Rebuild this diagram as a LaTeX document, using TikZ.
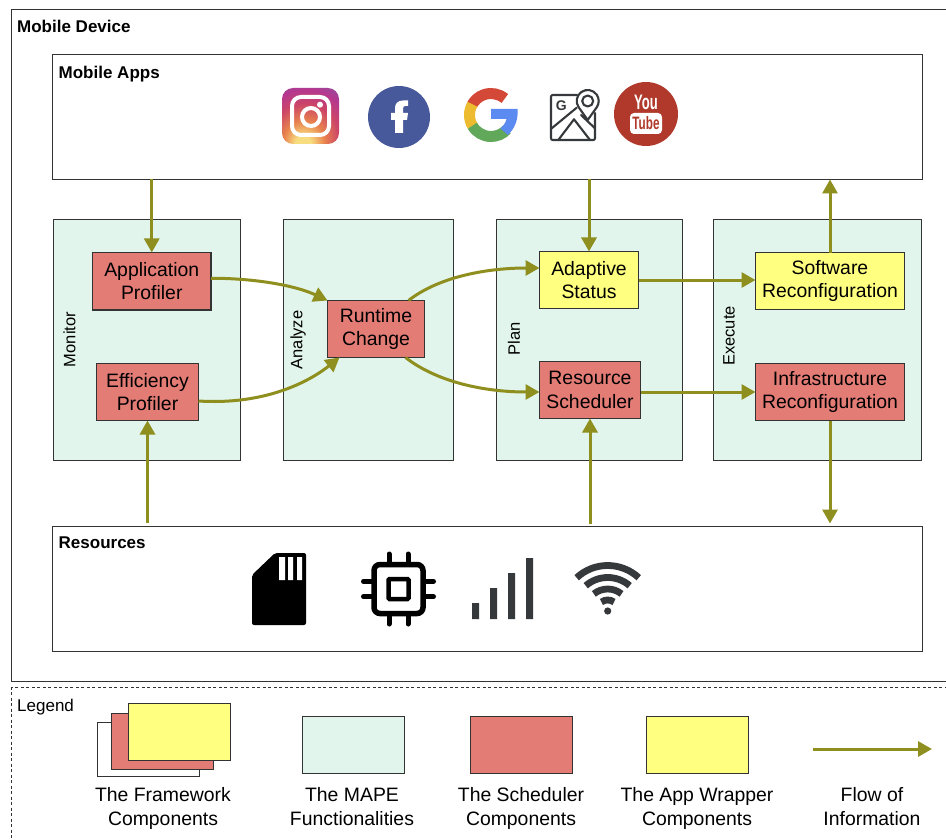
\documentclass[tikz,border=0pt]{standalone}
\usepackage{fontspec}
\setmainfont{Liberation Sans}
\usetikzlibrary{arrows.meta,calc}
\definecolor{mapeg}{HTML}{E2F5EC}
\definecolor{schedr}{HTML}{E37C75}
\definecolor{wrapy}{HTML}{FFFF80}
\definecolor{flowc}{HTML}{8F8F1F}
\definecolor{edge}{HTML}{333333}
\definecolor{iconk}{HTML}{35393B}
\definecolor{fbblue}{HTML}{47599A}
\definecolor{ytred}{HTML}{B0392B}
\definecolor{gred}{HTML}{D34836}
\definecolor{gyel}{HTML}{ECBB2F}
\definecolor{ggrn}{HTML}{62A85A}
\definecolor{gblu}{HTML}{5B8BF0}
\definecolor{igy}{HTML}{F8DC80}
\definecolor{igo}{HTML}{E8824E}
\definecolor{igr}{HTML}{CB4468}
\definecolor{igp}{HTML}{B5388F}
\definecolor{igt}{HTML}{7E55A6}
\pgfdeclareradialshading{igshade}{\pgfpoint{-7bp}{-27bp}}{%
  color(0bp)=(igy); color(7bp)=(igy); color(18bp)=(igo); color(30bp)=(igr);
  color(40bp)=(igp); color(52bp)=(igt); color(100bp)=(igt)}
\tikzset{
  basebox/.style={draw=edge,line width=1.1pt,inner sep=0pt,outer sep=0pt,align=center,font=\fontsize{19.4}{23.6}\selectfont,execute at begin node={\rule{0pt}{16pt}}},
  plainbox/.style={basebox,fill=white},
  mapebox/.style={basebox,fill=mapeg},
  schedbox/.style={basebox,fill=schedr},
  wrapbox/.style={basebox,fill=wrapy},
  legendbox/.style={draw=edge,line width=1.1pt,dash pattern=on 3pt off 2.5pt,inner sep=0pt,outer sep=0pt},
  flow/.style={draw=flowc,line width=3pt,-{Triangle[length=14pt,width=15pt]}},
  title/.style={anchor=base west,inner sep=0pt,font=\fontsize{17}{20}\selectfont\bfseries},
  legendtitle/.style={anchor=base west,inner sep=0pt,font=\fontsize{17}{20}\selectfont},
  sidelabel/.style={rotate=90,inner sep=0pt,font=\fontsize{16.5}{20}\selectfont},
  legendtext/.style={anchor=base,inner sep=0pt,align=center,font=\fontsize{19.4}{24}\selectfont},
}
\newcommand{\bnode}[7]{%
  \pgfmathsetmacro{\bcx}{(#3+#5)/2+0.5}%
  \pgfmathsetmacro{\bcy}{(#4+#6)/2+0.5}%
  \pgfmathsetmacro{\bw}{#5-#3}%
  \pgfmathsetmacro{\bh}{#6-#4}%
  \node[#1,minimum width=\bw pt,minimum height=\bh pt] (#2) at (\bcx,\bcy) {#7};%
}
\begin{document}
\begin{tikzpicture}[x=1pt,y=-1pt]
\useasboundingbox (0,0) rectangle (946,840);
\fill[white] (0,0) rectangle (946,840);
% containers
\bnode{plainbox}{device}{11}{9}{970}{681}{}
\bnode{plainbox}{apps}{52}{54}{922}{179}{}
\bnode{plainbox}{res}{52}{526}{922}{651}{}
\bnode{legendbox}{legend}{11}{687}{970}{860}{}
\node[title] (tdevice) at (17,32.5) {Mobile Device};
\node[title] (tapps) at (58.5,78.5) {Mobile Apps};
\node[title] (tres) at (58.5,548) {Resources};
\node[legendtitle] (tlegend) at (17,711) {Legend};
% MAPE
\bnode{mapebox}{monitor}{53}{219}{240}{460}{}
\bnode{mapebox}{analyze}{283}{219}{453}{460}{}
\bnode{mapebox}{plan}{496}{219}{682}{460}{}
\bnode{mapebox}{execute}{713}{219}{921}{460}{}
\node[sidelabel] (lmon) at (69.5,339.5) {Monitor};
\node[sidelabel] (lana) at (298,340) {Analyze};
\node[sidelabel] (lpla) at (514,339) {Plan};
\node[sidelabel] (lexe) at (729,336) {Execute};
% components
\bnode{schedbox}{appprof}{92}{252}{210.5}{309.5}{Application\\Profiler}
\bnode{schedbox}{effprof}{96}{363}{198}{420}{Efficiency\\Profiler}
\bnode{schedbox}{runtime}{327}{300}{424}{357}{Runtime\\Change}
\bnode{wrapbox}{adaptive}{539}{251}{638}{308}{Adaptive\\Status}
\bnode{schedbox}{sched}{539}{361}{640}{418}{Resource\\Scheduler}
\bnode{wrapbox}{software}{755}{252}{904}{309}{Software\\Reconfiguration}
\bnode{schedbox}{infra}{755}{363}{904}{420}{Infrastructure\\Reconfiguration}
% flows
\draw[flow] (apps.south -| appprof.north) -- (appprof.north);
\draw[flow] ([yshift=4pt]res.north -| effprof.south) -- (effprof.south);
\draw[flow] ([yshift=3pt]appprof.east) .. controls +(44,0) and +(-32,-15) .. (runtime.north west);
\draw[flow] ([yshift=-9pt]effprof.east) .. controls +(62,4) and +(-34,27) .. ([xshift=12pt]runtime.south west);
\draw[flow] ([xshift=-16pt]runtime.north east) .. controls +(32,-25) and +(-49,0) .. ([yshift=12pt]adaptive.west);
\draw[flow] ([xshift=-19pt]runtime.south east) .. controls +(35,27) and +(-49,0) .. ([yshift=-2pt]sched.west);
\draw[flow] (apps.south -| adaptive.north) -- (adaptive.north);
\draw[flow] ([yshift=3pt]res.north -| sched.south) -- (sched.south);
\draw[flow] (adaptive.east) -- (adaptive.east -| software.west);
\draw[flow] (sched.east |- infra.west) -- (infra.west);
\draw[flow] (software.north) -- (software.north |- apps.south);
\draw[flow] (infra.south) -- ([yshift=3pt]infra.south |- res.north);
% instagram
\begin{scope}[shift={(310.5,116)},y=1pt]
  \shade[rounded corners=11pt,shading=igshade] (-28.5,-28) rectangle (28.5,28);
  \draw[white,line width=4pt,rounded corners=9pt] (-18.5,-19) rectangle (18.5,19);
  \draw[white,line width=4pt] (0.5,-1) circle (9);
  \fill[white] (9.5,11.3) circle (3);
\end{scope}
% facebook
\begin{scope}[shift={(399,117)},y=1pt]
  \fill[fbblue] (0,0) circle (31);
  \fill[white] (-4,-16) -- (4,-16) -- (4,-3) -- (8,-3) -- (9,4) -- (4,4) -- (4,8.5)
    .. controls (4,10.5) and (5,11) .. (6.5,11) -- (9,11) -- (9,16.5) -- (4,16.5)
    .. controls (-1.5,16.5) and (-4,13) .. (-4,9) -- (-4,4) -- (-8,4) -- (-8,-3) -- (-4,-3) -- cycle;
\end{scope}
% google
\begin{scope}[shift={(491,115)},y=1pt]
  \draw[gred,line width=11pt] (50:21.5) arc[start angle=50,end angle=152,radius=21.5];
  \draw[gyel,line width=11pt] (150:21.5) arc[start angle=150,end angle=212,radius=21.5];
  \draw[ggrn,line width=11pt] (210:21.5) arc[start angle=210,end angle=318,radius=21.5];
  \fill[gblu] (0,6) -- (26.5,6) .. controls (27.5,-4) and (24,-13) .. (17,-20) -- (9.5,-13.5) .. controls (13,-10) and (15,-7) .. (15.5,-4) -- (0,-4) -- cycle;
\end{scope}
% maps
\begin{scope}[shift={(572,115)},y=1pt,draw=iconk,line width=2.1pt,line join=round,line cap=round]
  \draw (5,20) -- (-19,20) .. controls (-20.5,20) and (-21,19.5) .. (-21,18) -- (-21,-23) .. controls (-21,-24.5) and (-20.5,-25) .. (-19,-25) -- (21,-25) .. controls (22.5,-25) and (23,-24.5) .. (23,-23) -- (23,2);
  \draw (15.7,-5) -- (6.7,7.7) arc[start angle=215,end angle=-35,radius=11] -- cycle;
  \draw (15.7,14) circle (5.5);
  \draw (-20.3,-13.3) -- (4.7,7.3);
  \draw (-13.7,-25) -- (2,-4.3) -- (18,-25);
  \draw (9,0) -- (23,-13.3);
  \node[text=iconk,inner sep=0pt,font=\fontsize{14}{14}\selectfont\bfseries] (mapg) at (-10.7,9.5) {G};
\end{scope}
% youtube
\begin{scope}[shift={(646,114)},y=1pt]
  \fill[ytred] (0,0) circle (32);
  \node[white,inner sep=0pt,font=\fontsize{21}{21}\selectfont\bfseries] (ytyou) at (0,11.5) {\scalebox{.62}[1]{You}};
  \fill[white,rounded corners=4pt] (-16,-20) rectangle (16,1);
  \node[text=ytred,inner sep=0pt,font=\fontsize{18}{18}\selectfont\bfseries] (yttube) at (0,-9.5) {\scalebox{.65}[1]{Tube}};
\end{scope}
% sd card
\fill[black,rounded corners=2pt] (275,553) -- (306,553) -- (306,625) -- (252,625) -- (252,575) -- cycle;
\fill[white] (279,557) rectangle (285,580) (288,557) rectangle (293,580) (297,557) rectangle (302,580);
% chip
\begin{scope}[shift={(398.5,589)},y=1pt,draw=black]
  \draw[line width=5.5pt,rounded corners=6pt] (-24.5,-24.5) rectangle (24.5,24.5);
  \draw[line width=4.5pt,rounded corners=1pt] (-10,-10) rectangle (10,10);
  \foreach \p in {-9.5,9.5}{
    \draw[line width=5pt,line cap=round] (\p,26) -- (\p,35);
    \draw[line width=5pt,line cap=round] (\p,-26) -- (\p,-35);
    \draw[line width=5pt,line cap=round] (26,\p*0.8) -- (35,\p*0.8);
    \draw[line width=5pt,line cap=round] (-26,\p*0.8) -- (-35,\p*0.8);
  }
\end{scope}
% signal
\fill[iconk] (472,603) rectangle (479,619) (490,588) rectangle (497,619) (508,573) rectangle (515,619) (526,558) rectangle (533,619);
% wifi
\begin{scope}[shift={(607.7,611)},y=1pt]
  \fill[iconk] (0,0) circle (3.6);
  \foreach \r/\a in {11/55,22/51,33.5/49,45.5/47}{
    \draw[iconk,line width=6.8pt] (\a:\r) arc[start angle=\a,end angle=180-\a,radius=\r];
  }
\end{scope}
% legend
\bnode{plainbox}{lgwhite}{97}{722}{199}{776}{}
\bnode{schedbox}{lgred}{111}{713}{213}{769}{}
\bnode{wrapbox}{lgyellow}{128}{703}{230}{760}{}
\bnode{mapebox}{lgmape}{302}{716}{404}{773}{}
\bnode{schedbox}{lgsched}{470}{716}{572}{773}{}
\bnode{wrapbox}{lgwrap}{646}{716}{748}{773}{}
\coordinate (flowa) at (813,749);
\coordinate (flowb) at (932,749);
\draw[flow] (flowa) -- (flowb);
\node[legendtext] (t1) at (163,825) {The Framework\\Components};
\node[legendtext] (t2) at (352,825) {The MAPE\\Functionalities};
\node[legendtext] (t3) at (521,825) {The Scheduler\\Components};
\node[legendtext] (t4) at (697,825) {The App Wrapper\\Components};
\node[legendtext] (t5) at (872,825) {Flow of\\Information};
\end{tikzpicture}
\end{document}
